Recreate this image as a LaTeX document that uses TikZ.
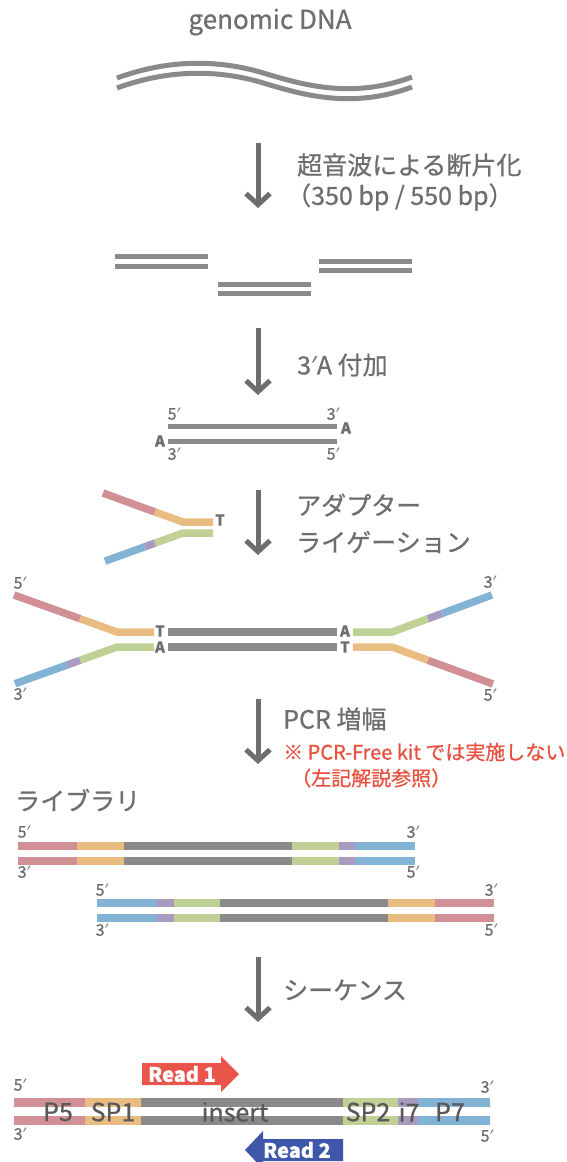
\documentclass[tikz,border=0pt]{standalone}
\usepackage{fontspec}
\setmainfont{Noto Sans CJK JP}[FakeBold=0.8]
\newfontfamily\primefont{Noto Sans}
\newcommand\pr{{\primefont ′}}
\usetikzlibrary{arrows.meta}
\definecolor{txt}{HTML}{6E6E6E}
\definecolor{strand}{HTML}{8A8A8A}
\definecolor{pk}{HTML}{D09096}
\definecolor{og}{HTML}{E9BC82}
\definecolor{gn}{HTML}{BFD195}
\definecolor{pu}{HTML}{A99AC0}
\definecolor{bl}{HTML}{82B2D4}
\definecolor{rd}{HTML}{E8513F}
\definecolor{rdarrow}{HTML}{E9554B}
\definecolor{blarrow}{HTML}{3F57A8}
\definecolor{partc}{HTML}{595959}
\begin{document}
\begin{tikzpicture}[x=1pt,y=-1pt,
  every node/.style={inner sep=0pt, text=txt},
  jp/.style={font=\fontsize{25}{30}\selectfont, anchor=west},
  note/.style={font=\fontsize{20}{24}\selectfont, text=rd, anchor=west},
  prm/.style={font=\fontsize{16}{18}\selectfont},
  base/.style={font=\fontsize{15}{18}\selectfont\bfseries},
  flow/.style={draw=txt, line width=5pt, -{Straight Barb[length=11pt,width=24pt]}},
  dna/.style={draw=strand, line width=5pt},
  seg/.style={line width=7.5pt},
  bar/.style={line width=8pt},
  seqbar/.style={line width=9pt},
  part/.style={font=\fontsize{25}{30}\selectfont, text=partc},
  readlbl/.style={font=\fontsize{20}{24}\selectfont\bfseries, text=white},
]
\useasboundingbox (0,0) rectangle (567,1162);
\clip (0,0) rectangle (567,1162);

% title
\node[font=\fontsize{26}{30}\selectfont] (title) at (270,22) {genomic DNA};

% genomic DNA
\draw[dna] (117,78) .. controls (150,66) and (200,55) .. (260,72) .. controls (300,84) and (350,100) .. (412,77);
\draw[dna] (117,88) .. controls (150,76) and (200,65) .. (260,82) .. controls (300,94) and (350,110) .. (412,87);

% step 1
\coordinate (f1a) at (258,143); \coordinate (f1b) at (258,208);
\draw[flow] (f1a) -- (f1b);
\node[jp] (t1a) at (297,165) {超音波による断片化};
\node[jp] (t1b) at (286,197) {（350 bp / 550 bp）};

% fragments
\draw[dna] (115,256) -- (208,256);
\draw[dna] (115,266) -- (208,266);
\draw[dna] (218,284) -- (311,284);
\draw[dna] (218,293) -- (311,293);
\draw[dna] (319,261) -- (412,261);
\draw[dna] (319,270) -- (412,270);

% step 2
\coordinate (f2a) at (258,328); \coordinate (f2b) at (258,395);
\draw[flow] (f2a) -- (f2b);
\node[jp] (t2) at (297,365) {3\pr A 付加};

% A-tailed fragment
\draw[dna] (168,426) -- (337,426);
\draw[dna] (168,441) -- (337,441);
\node[prm] (a5l) at (174,414) {5\pr};
\node[prm] (a3r) at (333,414) {3\pr};
\node[prm] (a3l) at (174,454) {3\pr};
\node[prm] (a5r) at (333,454) {5\pr};
\node[base] (aAr) at (346,428) {A};
\node[base] (aAl) at (160,441) {A};

% adapter
\draw[seg,draw=pk] (103,493) -- (155,512);
\draw[seg,draw=og] (155,512) -- (183,522) -- (213,522);
\draw[seg,draw=gn] (213,533) -- (183,533) -- (155,543.1);
\draw[seg,draw=pu] (155,543.1) -- (145,546.7);
\draw[seg,draw=bl] (145,546.7) -- (105,561.1);
\node[base] (adT) at (220,520) {T};

% step 3
\coordinate (f3a) at (258,490); \coordinate (f3b) at (258,555);
\draw[flow] (f3a) -- (f3b);
\node[jp] (t3a) at (296,505) {アダプター};
\node[jp] (t3b) at (296,542) {ライゲーション};

% ligation product
\draw[seg,draw=pk] (14,595) -- (80,618.7);
\draw[seg,draw=og] (80,618.7) -- (117,632) -- (154,632);
\draw[seg,draw=gn] (154,647) -- (117,647) -- (80,660.3);
\draw[seg,draw=pu] (80,660.3) -- (67,665);
\draw[seg,draw=bl] (67,665) -- (15,683.7);
\node[base] (lT) at (160,631) {T};
\node[base] (lA) at (160,647) {A};
\draw[seg,draw=strand] (168,632) -- (337,632);
\draw[seg,draw=strand] (168,647) -- (337,647);
\node[base] (rA) at (345,631) {A};
\node[base] (rT) at (345,647) {T};
\draw[seg,draw=gn] (353,632) -- (392,632) -- (428,618.7);
\draw[seg,draw=pu] (428,618.7) -- (442,613.5);
\draw[seg,draw=bl] (442,613.5) -- (492,595);
\draw[seg,draw=og] (353,647) -- (392,647) -- (428,660.3);
\draw[seg,draw=pk] (428,660.3) -- (493,684);
\node[prm] (l5a) at (20,583) {5\pr};
\node[prm] (l3a) at (20,694) {3\pr};
\node[prm] (l3b) at (490,582) {3\pr};
\node[prm] (l5b) at (490,695) {5\pr};

% step 4
\coordinate (f4a) at (258,699); \coordinate (f4b) at (258,764);
\draw[flow] (f4a) -- (f4b);
\node[jp] (t4) at (283,719) {PCR 増幅};
\node[note] (n1) at (283,752) {※ PCR-Free kit では実施しない};
\node[note] (n2) at (291,778) {（左記解説参照）};

% library
\node[jp] (lib) at (15,800) {ライブラリ};
\foreach \y in {846,861}{
  \draw[bar,draw=pk] (18,\y) -- (77,\y);
  \draw[bar,draw=og] (77,\y) -- (124,\y);
  \draw[bar,draw=strand] (124,\y) -- (292,\y);
  \draw[bar,draw=gn] (292,\y) -- (339,\y);
  \draw[bar,draw=pu] (339,\y) -- (355,\y);
  \draw[bar,draw=bl] (355,\y) -- (415,\y);
}
\node[prm] (b5a) at (24,832) {5\pr};
\node[prm] (b3a) at (413,832) {3\pr};
\node[prm] (b3b) at (24,872) {3\pr};
\node[prm] (b5b) at (413,872) {5\pr};
\foreach \y in {903,918}{
  \draw[bar,draw=bl] (97,\y) -- (157,\y);
  \draw[bar,draw=pu] (157,\y) -- (174,\y);
  \draw[bar,draw=gn] (174,\y) -- (220,\y);
  \draw[bar,draw=strand] (220,\y) -- (388,\y);
  \draw[bar,draw=og] (388,\y) -- (435,\y);
  \draw[bar,draw=pk] (435,\y) -- (494,\y);
}
\node[prm] (c5a) at (102,890) {5\pr};
\node[prm] (c3a) at (491,890) {3\pr};
\node[prm] (c3b) at (102,930) {3\pr};
\node[prm] (c5b) at (491,930) {5\pr};

% step 5
\coordinate (f5a) at (258,957); \coordinate (f5b) at (258,1022);
\draw[flow] (f5a) -- (f5b);
\node[jp] (t5) at (283,990) {シーケンス};

% sequencing
\fill[rdarrow] (142,1063) -- (221,1063) -- (221,1056) -- (239,1074) -- (221,1092) -- (221,1085) -- (142,1085) -- cycle;
\node[readlbl] (r1) at (182,1074) {Read 1};
\foreach \y in {1102,1120}{
  \draw[seqbar,draw=pk] (14,\y) -- (85,\y);
  \draw[seqbar,draw=og] (85,\y) -- (141,\y);
  \draw[seqbar,draw=strand] (141,\y) -- (343,\y);
  \draw[seqbar,draw=gn] (343,\y) -- (398,\y);
  \draw[seqbar,draw=pu] (398,\y) -- (418,\y);
  \draw[seqbar,draw=bl] (418,\y) -- (490,\y);
}
\node[part] (p5) at (58,1112) {P5};
\node[part] (sp1) at (113,1112) {SP1};
\node[part] (ins) at (235,1112) {insert};
\node[part] (sp2) at (368,1112) {SP2};
\node[part] (i7) at (409,1112) {i7};
\node[part] (p7) at (450,1112) {P7};
\node[prm] (s5a) at (20,1085) {5\pr};
\node[prm] (s3a) at (20,1134) {3\pr};
\node[prm] (s3b) at (487,1087) {3\pr};
\node[prm] (s5b) at (487,1136) {5\pr};
\fill[blarrow] (343,1139) -- (263,1139) -- (263,1131) -- (245,1150) -- (263,1169) -- (263,1161) -- (343,1161) -- cycle;
\node[readlbl] (r2) at (297,1150) {Read 2};
\end{tikzpicture}
\end{document}
